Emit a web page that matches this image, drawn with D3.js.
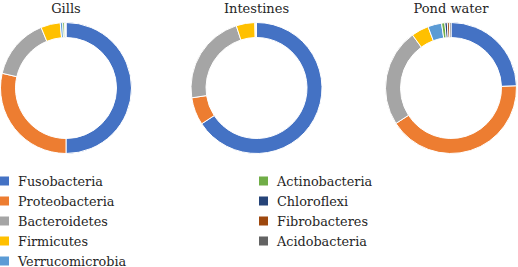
<!DOCTYPE html>
<html><head><meta charset="utf-8">
<script src="https://cdn.jsdelivr.net/npm/d3@7"></script>
<style>body{margin:0;background:#fff}svg{display:block}text{font-family:"DejaVu Serif",serif}</style>
</head><body>
<svg id="c" width="518" height="267"></svg>
<script>
const categories = ["Fusobacteria","Proteobacteria","Bacteroidetes","Firmicutes","Verrucomicrobia","Actinobacteria","Chloroflexi","Fibrobacteres","Acidobacteria"];
const panels = ["Gills","Intestines","Pond water"];
const gills = [50.0, 28.6, 15.2, 4.8, 0.6, 0.5, 0.1, 0.1, 0.1];
const intestines = [65.8, 6.8, 22.4, 4.6, 0.2, 0.1, 0.05, 0.03, 0.02];
const pondWater = [24.5, 41.4, 24.1, 4.3, 3.4, 0.8, 0.6, 0.5, 0.4];
const series = [gills, intestines, pondWater];
const colors = ["#4472C4","#ED7D31","#A5A5A5","#FFC000","#5B9BD5","#70AD47","#264478","#9E480E","#636363"];

const svg = d3.select("#c");
const color = d3.scaleOrdinal().domain(categories).range(colors);
const centers = {"Gills":66, "Intestines":256.5, "Pond water":451};
const pie = d3.pie().sort(null).value(d => d.v);
const arc = d3.arc().innerRadius(50.5).outerRadius(65.5);

panels.forEach((p, i) => {
  const g = svg.append("g").attr("transform", `translate(${centers[p]},88)`);
  const data = categories.map((c, j) => ({c, v: series[i][j]}));
  g.selectAll("path").data(pie(data)).join("path")
    .attr("d", arc).attr("fill", d => color(d.data.c))
    .attr("stroke", "#fff").attr("stroke-width", 1);
  svg.append("text").attr("x", centers[p]).attr("y", 13)
    .attr("text-anchor", "middle")
    .attr("font-size", 13).attr("fill", "#262626").text(p);
});

const legend = svg.append("g");
const rowY = d3.scaleLinear().domain([0, 1]).range([181, 201]);
categories.forEach((c, j) => {
  const col = j < 5 ? 0 : 1;
  const r = j < 5 ? j : j - 5;
  const x0 = col === 0 ? 0 : 259;
  const y = rowY(r);
  legend.append("rect").attr("x", x0).attr("y", y - 4.5).attr("width", 9).attr("height", 9)
    .attr("fill", color(c));
  legend.append("text").attr("x", x0 + 18).attr("y", y + 5)
    .attr("font-size", 12.8).attr("fill", "#262626").text(c);
});
</script>
</body></html>
